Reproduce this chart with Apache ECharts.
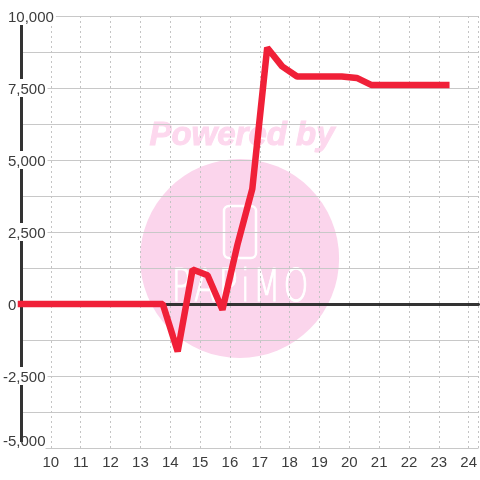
<!DOCTYPE html>
<html>
<head>
<meta charset="utf-8">
<script src="https://cdn.jsdelivr.net/npm/echarts@6/dist/echarts.min.js"></script>
<style>
  html, body { margin: 0; padding: 0; background: #fff; }
  #chart { width: 480px; height: 480px; }
</style>
</head>
<body>
<div id="chart"></div>
<script>
const hours = [9, 13.75, 14.25, 14.75, 15.25, 15.75, 16.25, 16.75, 17.25, 17.75, 18.25, 18.75, 19.25, 19.75, 20.25, 20.75, 21.25, 21.75, 22.25, 22.75, 23.25];
const values = [0, 0, -1650, 1200, 1000, -200, 2050, 4000, 8900, 8250, 7900, 7900, 7900, 7900, 7850, 7600, 7600, 7600, 7600, 7600, 7600];

const chart = echarts.init(document.getElementById("chart"));
const font = "Liberation Sans";

chart.setOption({
  animation: false,
  backgroundColor: "#fff",
  grid: { left: 20.3, right: 0, top: 16, bottom: 32 },
  graphic: [
    // watermark sits under the grid lines
    { type: "circle", z: -1, shape: { cx: 239.6, cy: 258.5, r: 99.5 }, style: { fill: "#fbd5ec" } },
    { type: "text", z: -1, x: 242, y: 136, style: { text: "Powered by", fill: "#fdd8ee", stroke: "#fdd8ee", lineWidth: 1, font: "italic bold 33px " + font, align: "center", verticalAlign: "middle" } },
    { type: "rect", z: -1, shape: { x: 224, y: 206, width: 32, height: 52, r: 5 }, style: { fill: "none", stroke: "#fff", lineWidth: 2.5 } },
    { type: "text", z: -1, x: 240, y: 290, scaleX: 0.72, style: { text: "P\u200aA\u200aP\u200ai\u200aM\u200aO", fill: "#fff", stroke: "#fff", lineWidth: 1, font: "44px 'DejaVu Sans Light', 'DejaVu Sans'", align: "center", verticalAlign: "middle" } }
  ],
  xAxis: [
    {
      type: "value",
      min: 9,
      max: 24.33,
      interval: 1,
      position: "bottom",
      axisLine: { show: false, onZero: false },
      axisTick: { show: false },
      axisLabel: { color: "#3c3c3c", fontSize: 15, fontFamily: font, margin: 7, showMinLabel: false, showMaxLabel: false },
      splitLine: { show: true, lineStyle: { color: "#c4c4c4", type: [2, 3], width: 1 } }
    },
    {
      // dark zero line
      type: "value",
      min: 9,
      max: 24.33,
      position: "top",
      axisLine: { show: true, onZero: true, lineStyle: { color: "#333", width: 3 } },
      axisTick: { show: false },
      axisLabel: { show: false },
      splitLine: { show: false }
    }
  ],
  yAxis: {
    type: "value",
    min: -5000,
    max: 10000,
    interval: 2500,
    minorTick: { show: false, splitNumber: 2 },
    axisLine: { show: true, onZero: false, lineStyle: { color: "#333", width: 3 } },
    axisTick: { show: false },
    axisLabel: {
      align: "left",
      margin: 18,
      color: "#3c3c3c",
      fontSize: 15,
      fontFamily: font,
      backgroundColor: "#fff",
      rich: {
        pos: { padding: [3, 2, 0, 5], fontSize: 15, fontFamily: font, color: "#3c3c3c" },
        neg: { padding: [3, 2, 0, 0], fontSize: 15, fontFamily: font, color: "#3c3c3c" },
        // bottom label sits above its grid line
        low: { padding: [0, 0, 13, 0], lineHeight: 12, fontSize: 15, fontFamily: font, color: "#3c3c3c" }
      },
      formatter: function (v) {
        const s = v.toLocaleString("en-US");
        if (v === -5000) return "{low|" + s + "}";
        return v < 0 ? "{neg|" + s + "}" : "{pos|" + s + "}";
      }
    },
    splitLine: { show: true, lineStyle: { color: "#c8c8c8", width: 1 } },
    minorSplitLine: { show: true, lineStyle: { color: "#c8c8c8", width: 1 } }
  },
  series: [
    {
      type: "line",
      xAxisIndex: 0,
      data: hours.map((h, i) => [h, values[i]]),
      symbol: "none",
      clip: false,
      lineStyle: { color: "#f02038", width: 6.5, cap: "square", join: "bevel" }
    }
  ]
});
</script>
</body>
</html>
